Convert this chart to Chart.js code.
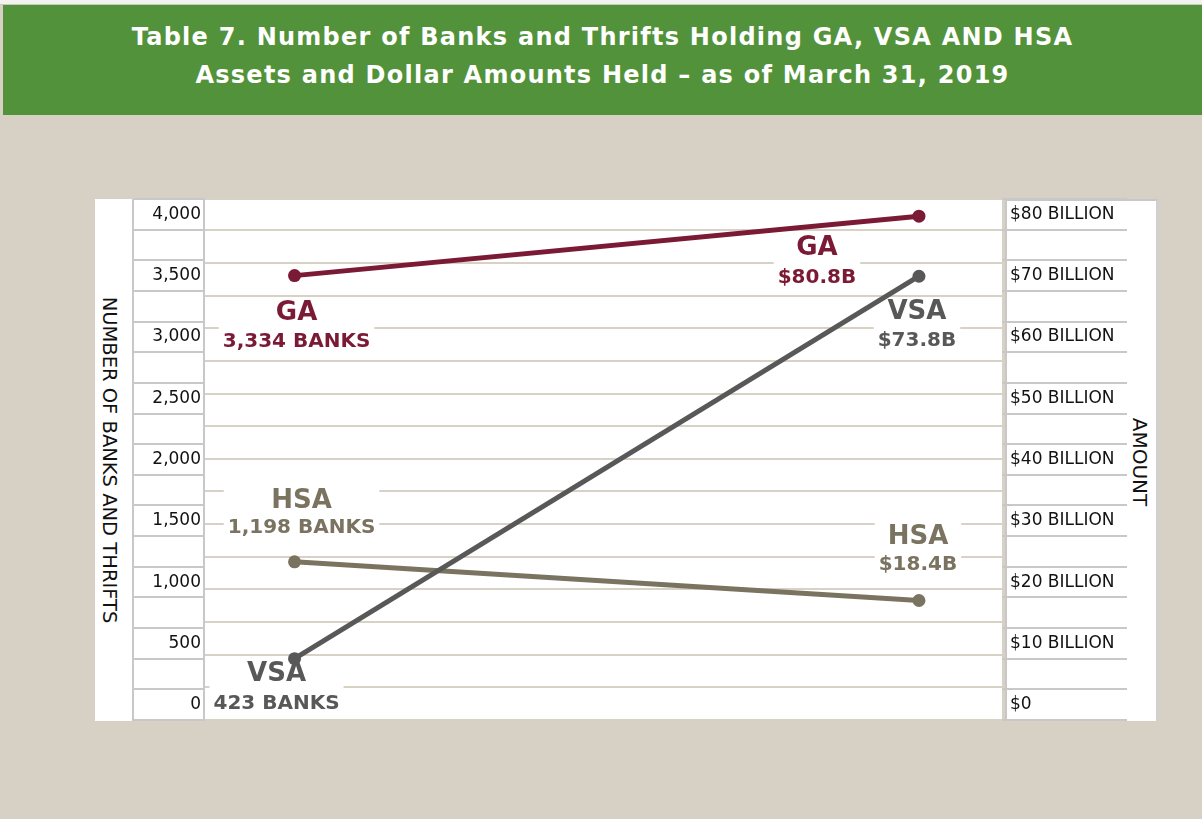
<!DOCTYPE html>
<html>
<head>
<meta charset="utf-8">
<title>Table 7. Banks and Thrifts Holding GA, VSA and HSA</title>
<script src="https://cdn.jsdelivr.net/npm/chart.js"></script>
<style>
body {
	margin: 0;
	width: 1202px;
	height: 819px;
	overflow: hidden;
	position: relative;
	background-color: #d7d0c5;
	font-family: "DejaVu Sans", sans-serif;
}
.topstrip {
	position: absolute; left: 0; top: 0; width: 1202px; height: 5px;
	background-color: #f2f2ee;
	border-bottom: 1px solid #c9c9c0;
	box-sizing: border-box;
}
.header {
	position: absolute; left: 3px; top: 5px; width: 1199px; height: 110px;
	background-color: #52923a;
}
.header div {
	position: absolute; left: 0; width: 100%;
	text-align: center; color: #ffffff; font-weight: bold; font-size: 24px;
	letter-spacing: 1.25px;
	white-space: nowrap;
}
.panel { position: absolute; background-color: #ffffff; }
.vline { position: absolute; background-color: #c8c8c8; }
.axis-title {
	position: absolute; white-space: nowrap; color: #111111; font-size: 19.5px;
	transform: translate(-50%, -50%) rotate(90deg);
}
#chartBox { position: absolute; left: 133px; top: 195px; width: 1027px; height: 530px; }
</style>
</head>
<body>
<div class="topstrip"></div>
<div class="header">
	<div style="top: 18px;">Table 7. Number of Banks and Thrifts Holding GA, VSA AND HSA</div>
	<div style="top: 56px;">Assets and Dollar Amounts Held &ndash; as of March 31, 2019</div>
</div>

<div class="panel" style="left: 95px; top: 199px; width: 907px; height: 522px;"></div>
<div class="vline" style="left: 132px; top: 199px; width: 2px; height: 522px;"></div>
<div class="panel" style="left: 1005px; top: 199px; width: 154px; height: 522px; border-left: 2px solid #c8c8c8; border-top: 2px solid #c8c8c8; border-right: 3px solid #d0d0d0; box-sizing: border-box;"></div>

<div class="axis-title" style="left: 109px; top: 460px;">NUMBER OF BANKS AND THRIFTS</div>
<div class="axis-title" style="left: 1140px; top: 462px; font-size: 20px;">AMOUNT</div>

<div id="chartBox"><canvas id="slope"></canvas></div>

<script>
// left side = number of banks and thrifts, right side = dollar amount held
const seriesNames = ['GA', 'VSA', 'HSA'];
const seriesColors = ['#7b1a35', '#585858', '#7a7360'];

// where the markers sit on the axes
const bankValues = [3500, 375, 1165];
const amountValues = [79.7, 69.9, 17.0]; // $ billion

// printed labels next to the markers
const bankLabels = ['3,334 BANKS', '423 BANKS', '1,198 BANKS'];
const amountLabels = ['$80.8B', '$73.8B', '$18.4B'];

const bankTicks = [0, 500, 1000, 1500, 2000, 2500, 3000, 3500, 4000];
const amountTicks = [0, 10, 20, 30, 40, 50, 60, 70, 80];
const amountTickLabels = ['$0', '$10 BILLION', '$20 BILLION', '$30 BILLION', '$40 BILLION',
	'$50 BILLION', '$60 BILLION', '$70 BILLION', '$80 BILLION'];

// both axes share the same height: 4,000 banks lines up with $80 billion
const BANKS_PER_BILLION = 4000 / 80;

// label placement relative to each marker: [dx, name dy, value dy]
const labelOffsets = [
	[[2, 38, 66], [-102, 32, 62]],
	[[-18, 16, 45], [-2, 36, 65]],
	[[7, -61, -34], [-1, -63, -36]]
];

Chart.defaults.font.family = '"DejaVu Sans", sans-serif';

const withMidpoints = arr => arr.flatMap((v, i) => i ? [(arr[i - 1] + v) / 2, v] : [v]);

const endLabels = {
	id: 'endLabels',
	beforeDatasetsDraw(chart) {
		const ctx = chart.ctx;
		ctx.save();
		ctx.textAlign = 'center';
		ctx.textBaseline = 'middle';
		chart.data.datasets.forEach((ds, i) => {
			chart.getDatasetMeta(i).data.forEach((pt, j) => {
				const off = labelOffsets[i][j];
				const x = pt.x + off[0];
				const name = seriesNames[i];
				const value = j === 0 ? bankLabels[i] : amountLabels[i];
				ctx.font = 'bold 26px "DejaVu Sans"';
				const w1 = ctx.measureText(name).width;
				ctx.font = 'bold 20px "DejaVu Sans"';
				const w2 = ctx.measureText(value).width;
				const w = Math.max(w1, w2) + 8;
				const top = pt.y + off[1] - 15;
				const bottom = pt.y + off[2] + 12;
				ctx.fillStyle = '#ffffff';
				ctx.fillRect(x - w / 2, top, w, bottom - top);
				ctx.fillStyle = seriesColors[i];
				ctx.font = 'bold 26px "DejaVu Sans"';
				ctx.fillText(name, x, pt.y + off[1]);
				ctx.font = 'bold 20px "DejaVu Sans"';
				ctx.fillText(value, x, pt.y + off[2]);
			});
		});
		ctx.restore();
	}
};

new Chart(document.getElementById('slope'), {
	type: 'line',
	data: {
		datasets: seriesNames.map((name, i) => ({
			label: name,
			xAxisID: 'x',
			yAxisID: 'y',
			data: [
				{x: 0, y: bankValues[i]},
				{x: 1, y: amountValues[i] * BANKS_PER_BILLION}
			],
			borderColor: seriesColors[i],
			backgroundColor: seriesColors[i],
			borderWidth: 5,
			pointRadius: 6.5,
			pointBorderWidth: 0,
			pointHoverRadius: 6.5,
			tension: 0
		}))
	},
	options: {
		responsive: true,
		maintainAspectRatio: false,
		animation: false,
		events: [],
		layout: {autoPadding: false, padding: {top: 4, bottom: 5, left: 0, right: 0}},
		plugins: {legend: {display: false}, tooltip: {enabled: false}},
		scales: {
			x: {type: 'linear', min: -0.145, max: 1.133, display: false},
			y: {
				type: 'linear', position: 'left', min: -125, max: 4125,
				afterBuildTicks: s => { s.ticks = withMidpoints(bankTicks).map(v => ({value: v})); },
				ticks: {
					autoSkip: false,
					padding: -67,
					color: '#111111',
					font: {size: 17},
					callback: v => bankTicks.includes(v) ? v.toLocaleString('en-US') : ''
				},
				grid: {offset: true, drawOnChartArea: false, tickLength: 70, tickColor: '#c8c8c8', tickWidth: 2, lineWidth: 2},
				border: {color: '#c8c8c8', width: 2},
				afterFit: s => { s.width = 71; }
			},
			g: {
				type: 'linear', position: 'left', min: 0, max: 15.96,
				ticks: {display: false, stepSize: 1},
				grid: {color: '#d8d2c6', lineWidth: 2, drawTicks: false},
				border: {display: false},
				afterFit: s => { s.width = 0; }
			},
			y2: {
				type: 'linear', position: 'right', min: -2.5, max: 82.5,
				afterBuildTicks: s => { s.ticks = withMidpoints(amountTicks).map(v => ({value: v})); },
				ticks: {
					autoSkip: false,
					padding: -117,
					color: '#111111',
					font: {size: 17},
					callback: v => amountTicks.includes(v) ? amountTickLabels[amountTicks.indexOf(v)] : ''
				},
				grid: {offset: true, drawOnChartArea: false, tickLength: 125, tickColor: '#c8c8c8', tickWidth: 2, lineWidth: 2},
				border: {display: false},
				afterFit: s => { s.width = 158; }
			}
		}
	},
	plugins: [endLabels]
});
</script>
</body>
</html>
